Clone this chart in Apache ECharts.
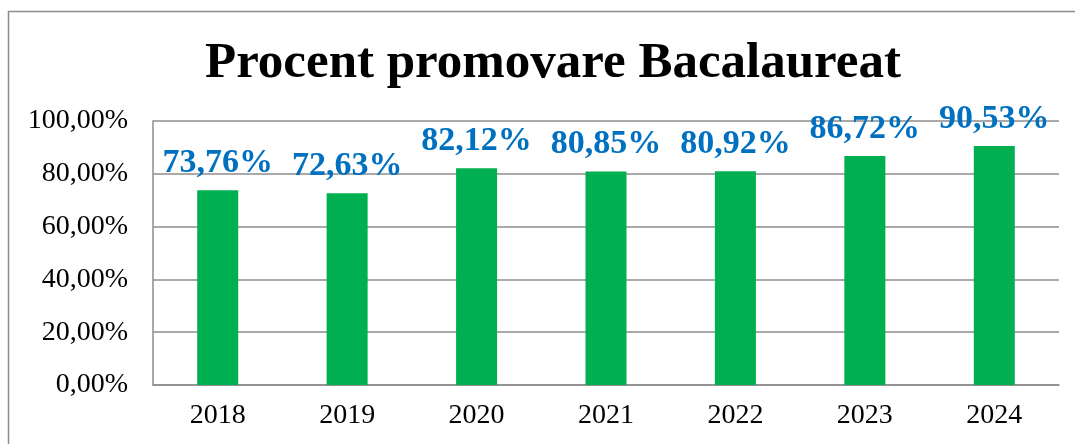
<!DOCTYPE html>
<html>
<head>
<meta charset="utf-8">
<script src="https://cdn.jsdelivr.net/npm/echarts@6/dist/echarts.min.js"></script>
<style>
  html, body { margin: 0; padding: 0; background: #fff; }
  #chart { width: 1075px; height: 444px; }
</style>
</head>
<body>
<div id="chart"></div>
<script>
// data
const years = ['2018', '2019', '2020', '2021', '2022', '2023', '2024'];
const passRate = [73.76, 72.63, 82.12, 80.85, 80.92, 86.72, 90.53];

const fmt = (v) => v.toFixed(2).replace('.', ',') + '%';
const serif = '"Liberation Serif", "DejaVu Serif", serif';

const chart = echarts.init(document.getElementById('chart'));

chart.setOption({
  animation: false,
  title: {
    text: 'Procent promovare Bacalaureat',
    left: 200,
    top: 33,
    textStyle: { fontFamily: serif, fontSize: 51, fontWeight: 'bold', color: '#000' }
  },
  graphic: [{
    type: 'rect',
    shape: { x: 8.5, y: 11.5, width: 1200, height: 600 },
    style: { fill: 'none', stroke: '#8c8c8c', lineWidth: 1.5 },
    silent: true
  }],
  grid: { left: 153, right: 16, top: 121, bottom: 59 },
  xAxis: {
    type: 'category',
    data: years,
    axisTick: { show: false },
    axisLine: { lineStyle: { color: '#8c8c8c', width: 1.5 } },
    axisLabel: { fontFamily: serif, fontSize: 28, color: '#000', margin: 17 }
  },
  yAxis: {
    type: 'value',
    min: 0,
    max: 100,
    interval: 20,
    axisLine: { show: true, lineStyle: { color: '#8c8c8c', width: 1.5 } },
    axisTick: { show: false },
    splitLine: { lineStyle: { color: '#8c8c8c', width: 1.5 } },
    axisLabel: { fontFamily: serif, fontSize: 28, color: '#000', margin: 25, formatter: fmt }
  },
  series: [{
    type: 'bar',
    data: passRate,
    barWidth: 41,
    itemStyle: { color: '#00B050' },
    label: {
      show: true,
      position: 'top',
      distance: 10,
      formatter: (p) => fmt(p.value),
      fontFamily: serif,
      fontSize: 34,
      fontWeight: 'bold',
      color: '#0070C0'
    }
  }]
});
</script>
</body>
</html>
